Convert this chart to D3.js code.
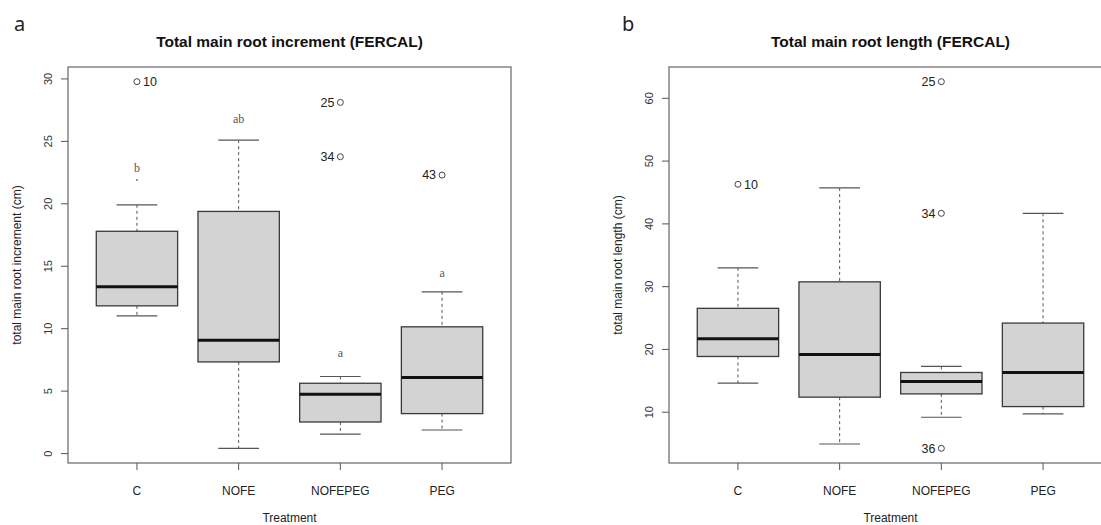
<!DOCTYPE html>
<html>
<head>
<meta charset="utf-8">
<script src="https://cdn.jsdelivr.net/npm/d3@7"></script>
<style>
  html, body { margin: 0; padding: 0; background: #fff; }
  svg { display: block; overflow: hidden; }
  text { font-family: "Liberation Sans", Arial, sans-serif; }
</style>
</head>
<body>
<svg id="chart" width="1101" height="525"></svg>
<script>
// Treatment groups
const categories = ["C", "NOFE", "NOFEPEG", "PEG"];

// Total main root increment (cm): five-number summaries per treatment
const incWhiskerLow  = [11.03, 0.42, 1.55, 1.89];
const incQ1          = [11.83, 7.34, 2.53, 3.20];
const incMedian      = [13.35, 9.08, 4.75, 6.09];
const incQ3          = [17.80, 19.39, 5.63, 10.15];
const incWhiskerHigh = [19.92, 25.10, 6.17, 12.95];
const incOutliers = [
  { group: "C", value: 29.78, id: "10" },
  { group: "NOFEPEG", value: 28.12, id: "25" },
  { group: "NOFEPEG", value: 23.77, id: "34" },
  { group: "PEG", value: 22.30, id: "43" }
];
const incLetters  = ["b", "ab", "a", "a"];
const incLetterAt = [22.9, 26.8, 8.1, 14.5];
const incMarks    = [{ group: "C", value: 21.9 }];
const incTicks    = [0, 5, 10, 15, 20, 25, 30];

// Total main root length (cm)
const lenWhiskerLow  = [14.63, 4.94, 9.20, 9.73];
const lenQ1          = [18.88, 12.40, 12.92, 10.90];
const lenMedian      = [21.70, 19.20, 14.89, 16.33];
const lenQ3          = [26.55, 30.77, 16.33, 24.20];
const lenWhiskerHigh = [33.00, 45.72, 17.29, 41.68];
const lenOutliers = [
  { group: "C", value: 46.30, id: "10" },
  { group: "NOFEPEG", value: 62.65, id: "25" },
  { group: "NOFEPEG", value: 41.68, id: "34" },
  { group: "NOFEPEG", value: 4.25, id: "36" }
];
const lenTicks = [10, 20, 30, 40, 50, 60];

const svg = d3.select("#chart");

function boxPanel(opts) {
  const { left, right, top, bottom, title, yLabel, tag, tagX,
          lo, q1, med, q3, hi, outliers, ticks, letters, letterAt, marks } = opts;
  const g = svg.append("g");

  // x axis: group index, with some padding beyond [0.5, n + 0.5]
  const n = categories.length;
  const x = d3.scaleLinear().domain([0.322, n + 0.678]).range([left, right]);
  const xi = c => x(categories.indexOf(c) + 1);

  // y axis: data range with 4% padding
  const allVals = lo.concat(hi, outliers.map(o => o.value));
  const yMin = d3.min(allVals), yMax = d3.max(allVals);
  const yPad = (yMax - yMin) * 0.04;
  const y = d3.scaleLinear().domain([yMin - yPad, yMax + yPad]).range([bottom, top]);

  const unit = x(2) - x(1);
  const boxW = unit * 0.8;
  const capW = boxW * 0.5;

  // panel tag
  g.append("text").attr("x", tagX).attr("y", 31)
    .style("font-family", "'Noto Sans', sans-serif").style("font-size", "20px")
    .attr("fill", "#222").text(tag);

  // title
  g.append("text").attr("x", (left + right) / 2).attr("y", 47)
    .attr("text-anchor", "middle").style("font-size", "15.5px").style("font-weight", "bold")
    .attr("fill", "#111").text(title);

  // boxes
  categories.forEach((c, i) => {
    const cx = xi(c);
    // whiskers (dashed)
    g.append("line").attr("x1", cx).attr("x2", cx).attr("y1", y(hi[i])).attr("y2", y(q3[i]))
      .attr("stroke", "#555").attr("stroke-width", 1).attr("stroke-dasharray", "3,3");
    g.append("line").attr("x1", cx).attr("x2", cx).attr("y1", y(q1[i])).attr("y2", y(lo[i]))
      .attr("stroke", "#555").attr("stroke-width", 1).attr("stroke-dasharray", "3,3");
    // caps
    [hi[i], lo[i]].forEach(v => {
      g.append("line").attr("x1", cx - capW / 2).attr("x2", cx + capW / 2)
        .attr("y1", y(v)).attr("y2", y(v)).attr("stroke", "#555").attr("stroke-width", 1.2);
    });
    // box
    g.append("rect").attr("x", cx - boxW / 2).attr("width", boxW)
      .attr("y", y(q3[i])).attr("height", y(q1[i]) - y(q3[i]))
      .attr("fill", "#d3d3d3").attr("stroke", "#3a3a3a").attr("stroke-width", 1.3);
    // median
    g.append("line").attr("x1", cx - boxW / 2).attr("x2", cx + boxW / 2)
      .attr("y1", y(med[i])).attr("y2", y(med[i])).attr("stroke", "#111").attr("stroke-width", 3);
  });

  // outliers with sample ids
  outliers.forEach(o => {
    const cx = xi(o.group), cy = y(o.value);
    g.append("circle").attr("cx", cx).attr("cy", cy).attr("r", 3)
      .attr("fill", "none").attr("stroke", "#444").attr("stroke-width", 1);
    const right = o.group === "C";
    g.append("text").attr("x", right ? cx + 6 : cx - 6).attr("y", cy)
      .attr("dy", "0.35em").attr("text-anchor", right ? "start" : "end")
      .style("font-size", "12.5px").attr("fill", "#222").text(o.id);
  });

  // group letters
  if (letters) {
    categories.forEach((c, i) => {
      g.append("text").attr("x", xi(c)).attr("y", y(letterAt[i])).attr("dy", "0.35em")
        .attr("text-anchor", "middle")
        .style("font-family", "'Liberation Serif', serif").style("font-size", "12px")
        .attr("fill", "#555").text(letters[i]);
    });
  }
  (marks || []).forEach(m => {
    g.append("circle").attr("cx", xi(m.group)).attr("cy", y(m.value)).attr("r", 1)
      .attr("fill", "#777");
  });

  // frame
  g.append("rect").attr("x", left).attr("y", top).attr("width", right - left).attr("height", bottom - top)
    .attr("fill", "none").attr("stroke", "#666").attr("stroke-width", 1.2);

  // y axis ticks and rotated labels
  ticks.forEach(t => {
    g.append("line").attr("x1", left - 7).attr("x2", left).attr("y1", y(t)).attr("y2", y(t))
      .attr("stroke", "#555").attr("stroke-width", 1);
    g.append("text").attr("transform", `translate(${left - 20},${y(t)}) rotate(-90)`)
      .attr("text-anchor", "middle").attr("dy", "0.35em").style("font-size", "11px")
      .attr("fill", "#333").text(t);
  });
  g.append("text").attr("transform", `translate(${left - 51},${(top + bottom) / 2}) rotate(-90)`)
    .attr("text-anchor", "middle").attr("dy", "0.35em").style("font-size", "12px")
    .attr("fill", "#222").text(yLabel);

  // x axis ticks and labels
  categories.forEach(c => {
    const cx = xi(c);
    g.append("line").attr("x1", cx).attr("x2", cx).attr("y1", bottom).attr("y2", bottom + 7)
      .attr("stroke", "#555").attr("stroke-width", 1);
    g.append("text").attr("x", cx).attr("y", 491).attr("dy", "0.35em")
      .attr("text-anchor", "middle").style("font-size", "12px").attr("fill", "#222").text(c);
  });
  g.append("text").attr("x", (left + right) / 2).attr("y", 518).attr("dy", "0.35em")
    .attr("text-anchor", "middle").style("font-size", "12px").attr("fill", "#222").text("Treatment");
}

boxPanel({
  left: 68, right: 511, top: 67, bottom: 463,
  title: "Total main root increment (FERCAL)",
  yLabel: "total main root increment (cm)",
  tag: "a", tagX: 14,
  lo: incWhiskerLow, q1: incQ1, med: incMedian, q3: incQ3, hi: incWhiskerHigh,
  outliers: incOutliers, ticks: incTicks, letters: incLetters, letterAt: incLetterAt, marks: incMarks
});

boxPanel({
  left: 669, right: 1112, top: 67, bottom: 463,
  title: "Total main root length (FERCAL)",
  yLabel: "total main root length (cm)",
  tag: "b", tagX: 622,
  lo: lenWhiskerLow, q1: lenQ1, med: lenMedian, q3: lenQ3, hi: lenWhiskerHigh,
  outliers: lenOutliers, ticks: lenTicks
});
</script>
</body>
</html>
